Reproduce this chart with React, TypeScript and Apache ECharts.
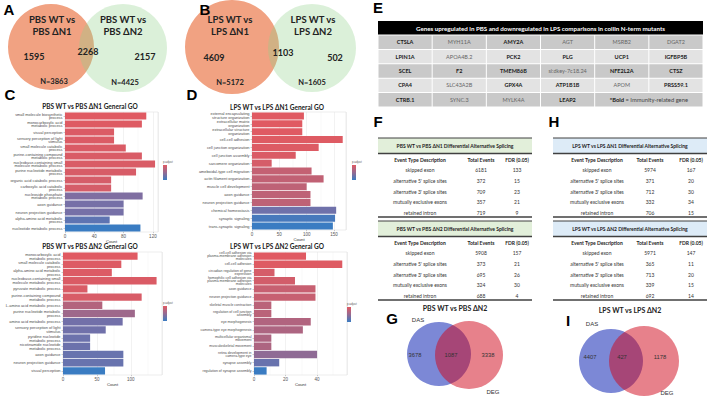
import React, { useEffect, useRef } from "react";
import * as echarts from "echarts";

// ---------- Venn data ----------
const vennATitles = ["PBS WT vs", "PBS ΔN1", "PBS WT vs", "PBS ΔN2"];
const vennAValues = [1595, 2268, 2157];
const vennANs = [3863, 4425];
const vennBTitles = ["LPS WT vs", "LPS ΔN1", "LPS WT vs", "LPS ΔN2"];
const vennBValues = [4609, 1103, 502];
const vennBNs = [5172, 1605];
const vennGValues = [3678, 1087, 3338];
const vennIValues = [4407, 427, 1178];

// ---------- GO bar data ----------
const c1Terms = [
  "small molecule biosynthetic\nprocess",
  "monocarboxylic acid\nmetabolic process",
  "visual perception",
  "sensory perception of light\nstimulus",
  "small molecule catabolic\nprocess",
  "purine-containing compound\nmetabolic process",
  "nucleobase-containing small\nmolecule metabolic process",
  "purine nucleotide metabolic\nprocess",
  "organic acid catabolic process",
  "carboxylic acid catabolic\nprocess",
  "nucleoside phosphate\nmetabolic process",
  "axon guidance",
  "neuron projection guidance",
  "alpha-amino acid metabolic\nprocess",
  "nucleotide metabolic process",
];
const c1Counts = [111, 105, 67, 67, 83, 105, 123, 97, 63, 63, 106, 80, 80, 61, 103];
const c1Padj = [0.0002, 0.0004, 0.0006, 0.0006, 0.0007, 0.0008, 0.0008, 0.001, 0.0012, 0.0012, 0.0062, 0.0066, 0.0066, 0.008, 0.0102];

const c2Terms = [
  "monocarboxylic acid\nmetabolic process",
  "small molecule catabolic\nprocess",
  "alpha-amino acid metabolic\nprocess",
  "nucleobase-containing small\nmolecule metabolic process",
  "pyruvate metabolic process",
  "purine-containing compound\nmetabolic process",
  "L-amino acid metabolic process",
  "purine nucleotide metabolic\nprocess",
  "amino acid metabolic process",
  "sensory perception of light\nstimulus",
  "pyridine nucleotide\nmetabolic process",
  "nicotinamide nucleotide\nmetabolic process",
  "axon guidance",
  "neuron projection guidance",
  "visual perception",
];
const c2Counts = [110, 86, 72, 138, 36, 116, 58, 106, 88, 63, 40, 40, 89, 89, 62];
const c2Padj = [0.0001, 0.0003, 0.0004, 0.0005, 0.0006, 0.0007, 0.0029, 0.0037, 0.0054, 0.0055, 0.0057, 0.0057, 0.0059, 0.0059, 0.0081];

const d1Terms = [
  "external encapsulating\nstructure organization",
  "extracellular matrix\norganization",
  "extracellular structure\norganization",
  "cell-cell adhesion",
  "cell junction organization",
  "cell junction assembly",
  "sarcomere organization",
  "ameboidal-type cell migration",
  "actin filament organization",
  "muscle cell development",
  "axon guidance",
  "neuron projection guidance",
  "chemical homeostasis",
  "synaptic signaling",
  "trans-synaptic signaling",
];
const d1Counts = [95, 92, 92, 166, 122, 80, 36, 109, 131, 100, 107, 107, 154, 152, 148];
const d1Padj = [0.00001, 0.00001, 0.00003, 0.00005, 0.00007, 0.00011, 0.00021, 0.00051, 0.00055, 0.00061, 0.00061, 0.00061, 0.00137, 0.00185, 0.00201];

const d2Terms = [
  "cell-cell adhesion via\nplasma-membrane adhesion\nmolecules",
  "cell-cell adhesion",
  "circadian regulation of gene\nexpression",
  "homophilic cell adhesion via\nplasma membrane adhesion\nmolecules",
  "axon guidance",
  "neuron projection guidance",
  "skeletal muscle contraction",
  "regulation of cell junction\nassembly",
  "eye morphogenesis",
  "camera-type eye morphogenesis",
  "multicellular organismal\nmovement",
  "musculoskeletal movement",
  "retina development in\ncamera-type eye",
  "synapse assembly",
  "regulation of synapse assembly",
];
const d2Counts = [33, 56, 13, 26, 39, 39, 11, 11, 36, 31, 11, 11, 40, 16, 8];
const d2Padj = [0.001, 0.0018, 0.005, 0.0058, 0.0098, 0.0098, 0.0138, 0.0138, 0.0154, 0.0162, 0.0162, 0.0162, 0.0218, 0.0298, 0.041];

// ---------- Gene table ----------
const eHeader = "Genes upregulated in PBS and downregulated in LPS comparisons in coilin N-term mutants";
const eGenes = [
  ["CTSLA", "MYH11A", "AMY2A", "AGT", "MSRB2", "DGAT2"],
  ["LPIN1A", "APOA4B.2", "PCK2", "PLG", "UCP1", "IGFBP5B"],
  ["SCEL", "F2", "TMEM86B", "si:dkey-7c18.24", "NFE2L2A", "CTSZ"],
  ["CPA4", "SLC43A2B", "GPX4A", "ATP1B1B", "APOM", "PRSS59.1"],
  ["CTRB.1", "SYNC.3", "MYLK4A", "LEAP2"],
];
const eImmune = [
  [1, 0, 1, 0, 0, 0],
  [1, 0, 1, 1, 1, 1],
  [1, 1, 1, 0, 1, 1],
  [1, 0, 1, 1, 0, 1],
  [1, 0, 0, 1],
];
const eNote = "= Immunity-related gene";

// ---------- Splicing tables ----------
const spliceHeaders = ["Event Type Description", "Total Events", "FDR (0.05)"];
const spliceTypes = [
  "skipped exon",
  "alternative 5' splice sites",
  "alternative 3' splice sites",
  "mutually exclusive exons",
  "retained intron",
];
const f1Title = "PBS WT vs PBS ΔN1 Differential Alternative Splicing";
const f1Total = [6181, 372, 709, 357, 719];
const f1Fdr = [133, 15, 23, 21, 9];
const f2Title = "PBS WT vs PBS ΔN2 Differential Alternative Splicing";
const f2Total = [5908, 373, 695, 324, 688];
const f2Fdr = [157, 21, 26, 30, 4];
const h1Title = "LPS WT vs LPS ΔN1 Differential Alternative Splicing";
const h1Total = [5974, 371, 712, 332, 706];
const h1Fdr = [167, 20, 30, 34, 15];
const h2Title = "LPS WT vs LPS ΔN2 Differential Alternative Splicing";
const h2Total = [5971, 365, 713, 339, 692];
const h2Fdr = [147, 11, 20, 15, 14];

// ---------- helpers ----------
const STOPS: [number, number[]][] = [
  [0, [224, 90, 98]],
  [0.3, [190, 98, 118]],
  [0.65, [116, 112, 168]],
  [1, [58, 124, 194]],
];
function padjColor(v: number, arr: number[]) {
  const mn = Math.min(...arr);
  const mx = Math.max(...arr);
  const t = mx > mn ? (v - mn) / (mx - mn) : 0;
  for (let i = 1; i < STOPS.length; i++) {
    if (t <= STOPS[i][0]) {
      const [t0, c0] = STOPS[i - 1];
      const [t1, c1] = STOPS[i];
      const u = (t - t0) / (t1 - t0);
      const c = c0.map((x, k) => Math.round(x + (c1[k] - x) * u));
      return `rgb(${c[0]},${c[1]},${c[2]})`;
    }
  }
  return "rgb(58,124,194)";
}

function txt(x: number, y: number, text: string, size: number, opts: any = {}) {
  return {
    type: "text",
    x,
    y,
    silent: true,
    z: opts.z ?? 10,
    style: {
      text,
      fontSize: size,
      fontWeight: opts.bold ? "bold" : "normal",
      fontFamily: opts.family ?? "Lato",
      fill: opts.color ?? "#222",
      align: opts.align ?? "center",
      verticalAlign: "middle",
      rich: opts.rich,
    },
  };
}
function rect(x: number, y: number, w: number, h: number, fill: string, z = 1) {
  return { type: "rect", silent: true, z, shape: { x, y, width: w, height: h }, style: { fill } };
}
function hline(x1: number, x2: number, y: number, w: number, color = "#404040") {
  return { type: "line", silent: true, z: 5, shape: { x1, y1: y, x2, y2: y }, style: { stroke: color, lineWidth: w } };
}
function circle(cx: number, cy: number, r: number, fill: string, z = 2) {
  return { type: "circle", silent: true, z, shape: { cx, cy, r }, style: { fill } };
}

function spliceTable(x0: number, x1: number, yTop: number, title: string, fill: string, cx: number[], totals: number[], fdrs: number[]) {
  const els: any[] = [];
  els.push(rect(x0, yTop, x1 - x0, 15, fill));
  els.push(hline(x0, x1, yTop, 1));
  els.push(txt((x0 + x1) / 2, yTop + 8, title, 5, { bold: true }));
  els.push(hline(x0, x1, yTop + 15.5, 1.5));
  spliceHeaders.forEach((h, i) => els.push(txt(cx[i], yTop + 22, h, 5, { bold: true })));
  spliceTypes.forEach((t, i) => {
    const y = yTop + 32 + i * 10.8;
    els.push(txt(cx[0], y, t, 5, { color: "#333" }));
    els.push(txt(cx[1], y, String(totals[i]), 5, { color: "#333" }));
    els.push(txt(cx[2], y, String(fdrs[i]), 5, { color: "#333" }));
  });
  els.push(hline(x0, x1, yTop + 79, 1.5));
  return els;
}

function gradLegend(x: number, y: number) {
  return [
    txt(x, y - 3, "p.adjust", 2.8, { align: "left", family: "Liberation Sans", color: "#555" }),
    {
      type: "rect",
      silent: true,
      z: 3,
      shape: { x, y, width: 4, height: 15 },
      style: {
        fill: new echarts.graphic.LinearGradient(0, 0, 0, 1, [
          { offset: 0, color: "rgb(224,90,98)" },
          { offset: 0.5, color: "rgb(150,106,145)" },
          { offset: 1, color: "rgb(58,124,194)" },
        ]),
      },
    },
  ];
}

function goGrid(left: number, top: number, width: number, height: number) {
  return {
    left,
    top,
    width,
    height,
    show: true,
    backgroundColor: "#fff",
    borderColor: "#d9d9d9",
    borderWidth: 0.5,
    containLabel: false,
  };
}
function goX(idx: number, max: number, interval: number) {
  return {
    type: "value",
    gridIndex: idx,
    min: 0,
    max,
    interval,
    name: "Count",
    nameLocation: "middle",
    nameGap: 5,
    nameTextStyle: { fontSize: 4.2, color: "#333", fontFamily: "Liberation Sans" },
    axisLabel: { fontSize: 4.5, color: "#555", margin: 1.5, fontFamily: "Liberation Sans", showMaxLabel: false },
    axisLine: { show: false },
    axisTick: { show: true, length: 1.2, lineStyle: { color: "#999", width: 0.5 } },
    splitLine: { show: true, lineStyle: { color: "#e4e4e4", width: 0.5 } },
    minorTick: { show: false, splitNumber: 2 },
    minorSplitLine: { show: true, lineStyle: { color: "#f0f0f0", width: 0.4 } },
  };
}
function goY(idx: number, terms: string[], fs = 3.9, lh = 3.9) {
  return {
    type: "category",
    gridIndex: idx,
    data: terms,
    inverse: true,
    axisLabel: {
      interval: 0,
      fontSize: fs,
      lineHeight: lh,
      color: "#4d4d4d",
      margin: 2.5,
      fontFamily: "Liberation Sans",
    },
    axisLine: { show: false },
    axisTick: { show: true, length: 1.5, alignWithLabel: true, lineStyle: { color: "#999", width: 0.5 } },
    splitLine: { show: false },
  };
}
function goSeries(idx: number, counts: number[], padj: number[]) {
  return {
    type: "bar",
    xAxisIndex: idx,
    yAxisIndex: idx,
    barCategoryGap: "10%",
    data: counts.map((c, i) => ({ value: c, itemStyle: { color: padjColor(padj[i], padj) } })),
  };
}

export default function App() {
  const ref = useRef<HTMLDivElement>(null);
  useEffect(() => {
    if (!ref.current) return;
    const chart = echarts.init(ref.current, undefined, { renderer: "svg" });

    const g: any[] = [];
    // Panel letters
    const letter = (x: number, y: number, s: string) => txt(x, y, s, 15, { bold: true, family: "Liberation Sans", color: "#000", z: 20 });
    g.push(letter(9, 9, "A"), letter(205, 9, "B"), letter(10, 94, "C"), letter(192, 94, "D"));
    g.push(letter(378, 7, "E"), letter(378, 121, "F"), letter(554, 121, "H"), letter(392, 318, "G"), letter(568, 320, "I"));

    // Venn A
    g.push(circle(51, 47, 43, "rgb(241,162,130)", 2));
    g.push(circle(123, 48, 44, "rgba(142,208,138,0.32)", 3));
    g.push(txt(52, 19, vennATitles[0], 9.5, { bold: true }), txt(52, 31, vennATitles[1], 9.5, { bold: true }));
    g.push(txt(123, 19, vennATitles[2], 9.5, { bold: true }), txt(123, 31, vennATitles[3], 9.5, { bold: true }));
    g.push(txt(34, 56, String(vennAValues[0]), 9, { bold: true }), txt(88, 51, String(vennAValues[1]), 9, { bold: true }), txt(145, 56, String(vennAValues[2]), 9, { bold: true }));
    g.push(txt(54, 81, "N=" + vennANs[0], 7.5, { bold: true }), txt(125, 82, "N=" + vennANs[1], 7.5, { bold: true }));

    // Venn B
    g.push(circle(232, 47, 47, "rgb(241,162,130)", 2));
    g.push(circle(312, 48, 44, "rgba(142,208,138,0.32)", 3));
    g.push(txt(230, 19, vennBTitles[0], 9.5, { bold: true }), txt(230, 31, vennBTitles[1], 9.5, { bold: true }));
    g.push(txt(313, 19, vennBTitles[2], 9.5, { bold: true }), txt(313, 31, vennBTitles[3], 9.5, { bold: true }));
    g.push(txt(214, 57, String(vennBValues[0]), 9, { bold: true }), txt(283, 52, String(vennBValues[1]), 9, { bold: true }), txt(335, 57, String(vennBValues[2]), 9, { bold: true }));
    g.push(txt(230, 82, "N=" + vennBNs[0], 7.5, { bold: true }), txt(312, 82, "N=" + vennBNs[1], 7.5, { bold: true }));

    // GO titles
    g.push(txt(90, 106, "PBS WT vs PBS ΔN1 General GO", 6.5, { bold: true }));
    g.push(txt(90, 246.5, "PBS WT vs PBS ΔN2 General GO", 6.5, { bold: true }));
    g.push(txt(277, 107, "LPS WT vs LPS ΔN1 General GO", 6.5, { bold: true }));
    g.push(txt(277, 246.5, "LPS WT vs LPS ΔN2 General GO", 6.5, { bold: true }));
    g.push(...gradLegend(163, 165), ...gradLegend(163, 306), ...gradLegend(352, 165), ...gradLegend(347, 307));

    // Gene table E
    const ex0 = 378, ex1 = 703, colW = (ex1 - ex0) / 6;
    g.push(rect(ex0, 21, ex1 - ex0, 13.5, "#000"));
    g.push(txt((ex0 + ex1) / 2, 28, eHeader, 6.2, { bold: true, color: "#fff" }));
    eGenes.forEach((row, r) => {
      const y0 = 35 + r * 14.4;
      const fill = r % 2 === 0 ? "#c9c9c9" : "#e3e3e3";
      for (let c = 0; c < 6; c++) {
        if (r === 4 && c === 5) continue;
        const w = r === 4 && c === 4 ? colW * 2 : colW;
        g.push(rect(ex0 + c * colW + 0.5, y0 + 0.5, w - 1, 13.4, fill));
      }
      row.forEach((gene, c) => {
        const bold = !!eImmune[r][c];
        g.push(txt(ex0 + (c + 0.5) * colW, y0 + 7.2, gene, 5.5, { bold, color: bold ? "#1a1a1a" : "#666" }));
      });
      if (r === 4) {
        g.push(
          txt(ex0 + 5 * colW, y0 + 7.2, "{b|*Bold} " + eNote, 5.8, {
            color: "#444",
            rich: { b: { fontWeight: "bold", fontSize: 5.8, fontFamily: "Lato", fill: "#1a1a1a", color: "#1a1a1a" } },
          })
        );
      }
    });

    // Splicing tables
    g.push(...spliceTable(378, 532, 138, f1Title, "#e2efda", [420, 481, 517], f1Total, f1Fdr));
    g.push(...spliceTable(378, 532, 221, f2Title, "#e2efda", [420, 481, 517], f2Total, f2Fdr));
    g.push(...spliceTable(553, 707, 138, h1Title, "#ddebf7", [597, 650, 691], h1Total, h1Fdr));
    g.push(...spliceTable(553, 707, 221, h2Title, "#ddebf7", [597, 650, 691], h2Total, h2Fdr));

    // Venn G
    g.push(txt(455, 308, "PBS WT vs PBS ΔN2", 7, { bold: true }));
    g.push(circle(439, 354, 32, "rgb(124,136,214)", 2));
    g.push(circle(469, 355, 34, "rgba(208,4,24,0.5)", 3));
    g.push(txt(418, 320, "DAS", 6, { family: "Liberation Sans", color: "#333" }));
    g.push(txt(493, 392, "DEG", 6, { family: "Liberation Sans", color: "#333" }));
    g.push(txt(415, 355, String(vennGValues[0]), 5.8, { family: "Liberation Sans", color: "#333" }));
    g.push(txt(451, 355, String(vennGValues[1]), 5.8, { family: "Liberation Sans", color: "#333" }));
    g.push(txt(488, 355, String(vennGValues[2]), 5.8, { family: "Liberation Sans", color: "#333" }));

    // Venn I
    g.push(txt(630, 310, "LPS WT vs LPS ΔN2", 7, { bold: true }));
    g.push(circle(611, 361, 32, "rgb(124,136,214)", 2));
    g.push(circle(644, 361, 35, "rgba(208,4,24,0.5)", 3));
    g.push(txt(592, 324, "DAS", 6, { family: "Liberation Sans", color: "#333" }));
    g.push(txt(667, 393, "DEG", 6, { family: "Liberation Sans", color: "#333" }));
    g.push(txt(590, 357, String(vennIValues[0]), 5.8, { family: "Liberation Sans", color: "#333" }));
    g.push(txt(622, 357, String(vennIValues[1]), 5.8, { family: "Liberation Sans", color: "#333" }));
    g.push(txt(660, 357, String(vennIValues[2]), 5.8, { family: "Liberation Sans", color: "#333" }));

    chart.setOption({
      animation: false,
      backgroundColor: "#fff",
      grid: [goGrid(65, 112, 93, 120), goGrid(63, 252, 99, 123), goGrid(252, 112, 94, 118), goGrid(254, 252, 93, 123)],
      xAxis: [goX(0, 127, 40), goX(1, 146, 50), goX(2, 172, 50), goX(3, 59, 20)],
      yAxis: [goY(0, c1Terms), goY(1, c2Terms), goY(2, d1Terms), goY(3, d2Terms, 3.5, 3.2)],
      series: [goSeries(0, c1Counts, c1Padj), goSeries(1, c2Counts, c2Padj), goSeries(2, d1Counts, d1Padj), goSeries(3, d2Counts, d2Padj)],
      graphic: g,
    });
    return () => chart.dispose();
  }, []);
  return <div ref={ref} style={{ position: "fixed", left: 0, top: 0, width: 709, height: 397 }} />;
}
